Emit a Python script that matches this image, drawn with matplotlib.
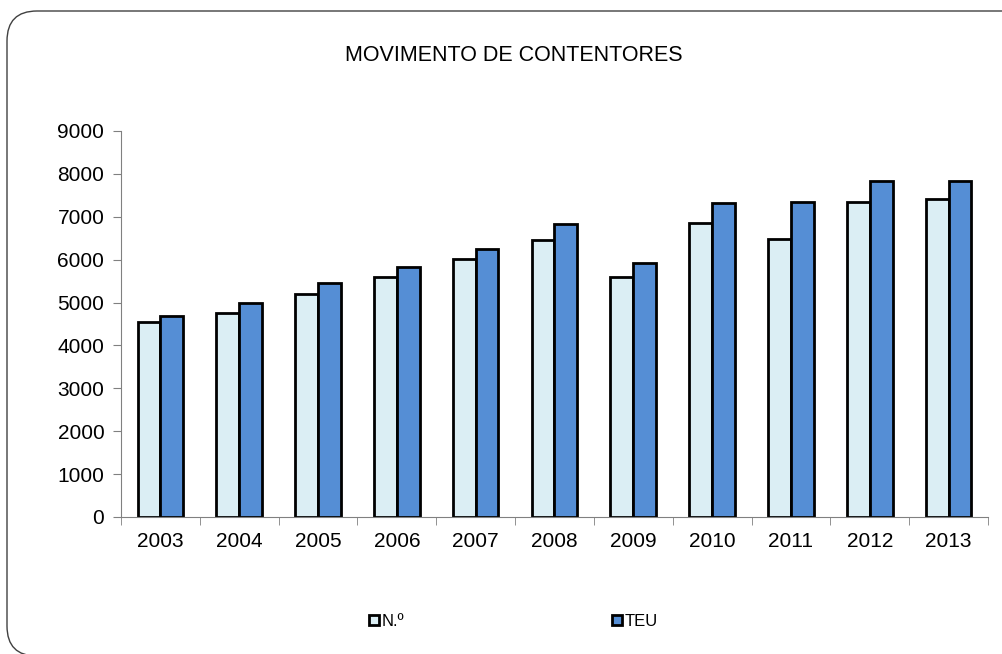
import numpy as np
import matplotlib.pyplot as plt
from matplotlib.patches import FancyBboxPatch, Patch

plt.rcParams['font.family'] = ['Liberation Sans', 'DejaVu Sans']

years = ['2003', '2004', '2005', '2006', '2007', '2008', '2009', '2010', '2011', '2012', '2013']
numero = [4540, 4750, 5200, 5590, 6010, 6460, 5600, 6850, 6475, 7335, 7405]
teu = [4685, 4990, 5445, 5820, 6255, 6830, 5915, 7310, 7350, 7830, 7830]
series_names = ['N.º', 'TEU']
colors = ['#DBEEF4', '#558ED5']

fig = plt.figure(figsize=(10.03, 6.54), dpi=100)

# rounded outer frame, running off the right and bottom edges
frame = FancyBboxPatch((0.07, -0.02), 11.5, 6.45, boxstyle='round,pad=0,rounding_size=0.3',
                       transform=fig.dpi_scale_trans, facecolor='none', edgecolor='#404040',
                       linewidth=1.0, clip_on=False)
fig.patches.append(frame)

ax = fig.add_axes([0.1206, 0.2095, 0.8644, 0.5902])

x = np.arange(len(years))
w = 0.29
ax.bar(x - w / 2, numero, w, color=colors[0], edgecolor='black', linewidth=2, label=series_names[0])
ax.bar(x + w / 2, teu, w, color=colors[1], edgecolor='black', linewidth=2, label=series_names[1])

ax.set_xlim(-0.5, len(years) - 0.5)
ax.set_ylim(0, 9000)
ax.set_yticks(np.arange(0, 9001, 1000))
ax.set_xticks(x)
ax.set_xticklabels(years)
ax.set_xticks(np.arange(-0.5, len(years), 1), minor=True)
ax.tick_params(axis='x', which='major', length=0, pad=11, labelsize=15)
ax.tick_params(axis='x', which='minor', length=6, color='#808080', direction='out')
ax.tick_params(axis='y', length=6, color='#808080', direction='out', labelsize=15, pad=6)

for s in ['top', 'right']:
    ax.spines[s].set_visible(False)
ax.spines['left'].set_color('#808080')
ax.spines['bottom'].set_color('#808080')

fig.text(0.512, 0.915, 'MOVIMENTO DE CONTENTORES', ha='center', va='center', fontsize=15.5)

handles = [Patch(facecolor=c, edgecolor='black', linewidth=2) for c in colors]
fig.legend(handles, series_names, loc='center', bbox_to_anchor=(0.512, 0.05), ncol=2,
           frameon=False, fontsize=12, handlelength=0.6, handleheight=0.6,
           handletextpad=0.15, columnspacing=12.5)

fig.savefig('out.png', dpi=100)
